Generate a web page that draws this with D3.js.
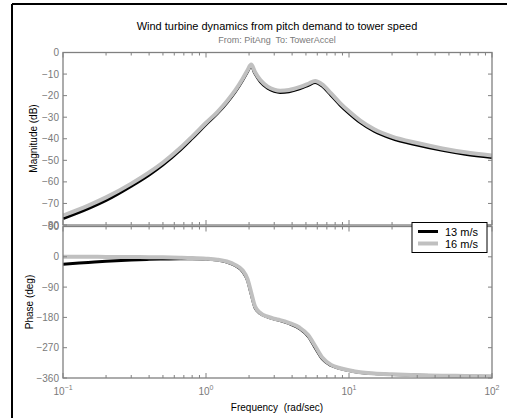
<!DOCTYPE html>
<html><head><meta charset="utf-8">
<script src="https://cdn.jsdelivr.net/npm/d3@7"></script>
<style>body{margin:0;background:#fff}svg{display:block;font-family:Arial,"Liberation Sans",sans-serif}</style>
</head><body><svg id="c" width="507" height="418"></svg>
<script>
const freq = [0.1,0.15,0.2,0.3,0.4,0.5,0.66,0.8,1.0,1.2,1.4,1.6,1.8,1.95,2.07,2.2,2.4,2.7,3.0,3.3,3.8,4.5,5.2,5.8,6.5,7.5,8.7,10,12,15,20,30,45,65,100];
const mag16 = [-75.6,-71,-67.2,-60.8,-55.6,-51,-44.3,-39,-32.6,-27.6,-22.6,-17.6,-12.3,-8.2,-5.6,-9,-12.8,-15.8,-17.2,-17.7,-17.4,-16.1,-14.5,-13.2,-14.8,-19,-23.6,-27.3,-31.6,-35.6,-39,-42,-44.5,-46.3,-47.8];
const mag13 = [-77,-72.4,-68.6,-62,-56.8,-52.1,-45.3,-39.9,-33.4,-28.3,-23.3,-18.3,-13,-8.9,-6.3,-9.8,-13.6,-16.6,-18,-18.5,-18.2,-16.9,-15.2,-13.9,-15.6,-19.9,-24.5,-28.2,-32.5,-36.5,-39.9,-42.9,-45.4,-47.2,-48.7];
const phase16 = [0,0,-0.3,-0.6,-1,-1.5,-2.5,-3.5,-5.5,-8.5,-14,-24,-40,-66,-106,-147,-167,-178,-184,-188,-196,-210,-233,-265,-299,-321,-331,-337,-343,-346.5,-349,-351.5,-353,-354,-355];
const phase13 = [-22,-17,-13.5,-9.5,-7.5,-6.3,-5.5,-5.5,-6.5,-9.5,-15.5,-26,-43,-70,-111,-151,-169,-179,-185,-189.5,-198,-213,-237,-270,-303,-323,-332,-338,-344,-347,-349.5,-352,-353.5,-354.5,-355.5];
const seriesNames = ["13 m/s","16 m/s"];
const magTicks = [0,-10,-20,-30,-40,-50,-60,-70,-80];
const phaseTicks = [90,0,-90,-180,-270,-360];
const decades = [-1,0,1,2];

const svg = d3.select("#c");
const axisCol = "#808080", textCol = "#7a7a7a";
const L = 63, R = 492;
const x = d3.scaleLog().domain([0.1,100]).range([L,R]);
const yM = d3.scaleLinear().domain([-80,0]).range([225,52.5]);
const yP = d3.scaleLinear().domain([-360,90]).range([378,226.5]);

svg.append("line").attr("x1",12).attr("x2",12).attr("y1",4).attr("y2",418).attr("stroke","#000").attr("stroke-width",2);
svg.append("line").attr("x1",12).attr("x2",507).attr("y1",4).attr("y2",4).attr("stroke","#000").attr("stroke-width",2);

svg.append("text").attr("x",277).attr("y",30).attr("text-anchor","middle").attr("font-size",11).attr("fill","#000").text("Wind turbine dynamics from pitch demand to tower speed");
svg.append("text").attr("x",277).attr("y",43).attr("text-anchor","middle").attr("font-size",9).attr("fill",textCol).style("white-space","pre").text("From: PitAng  To: TowerAccel");

function panel(y, ticks, top, bottom, vals, showX){
  const g = svg.append("g");
  const clipId = "clip"+Math.round(top);
  svg.append("clipPath").attr("id",clipId).append("rect").attr("x",L).attr("y",top).attr("width",R-L).attr("height",bottom-top);
  const line = d3.line().x((d,i)=>x(freq[i])).y(d=>y(d)).curve(d3.curveMonotoneX);
  const cg = g.append("g").attr("clip-path",`url(#${clipId})`);
  cg.append("path").attr("d",line(vals[0])).attr("fill","none").attr("stroke","#000").attr("stroke-width",3);
  cg.append("path").attr("d",line(vals[1])).attr("fill","none").attr("stroke","#c0c0c0").attr("stroke-width",4);
  g.append("rect").attr("x",L).attr("y",top).attr("width",R-L).attr("height",bottom-top).attr("fill","none").attr("stroke",axisCol).attr("stroke-width",1.3);
  ticks.forEach(t=>{
    const yy = y(t);
    g.append("line").attr("x1",L).attr("x2",L+4).attr("y1",yy).attr("y2",yy).attr("stroke",axisCol);
    g.append("line").attr("x1",R-4).attr("x2",R).attr("y1",yy).attr("y2",yy).attr("stroke",axisCol);
    g.append("text").attr("x",L-4).attr("y",yy+3.5).attr("text-anchor","end").attr("font-size",10).attr("fill",textCol).text(String(t).replace("-","\u2212"));
  });
  decades.forEach(dc=>{
    for(let k=1;k<=9;k++){
      const v = k*Math.pow(10,dc);
      if(v<0.1-1e-9||v>100+1e-9) continue;
      const xx = x(v), len = k===1?5:3;
      g.append("line").attr("x1",xx).attr("x2",xx).attr("y1",bottom).attr("y2",bottom-len).attr("stroke",axisCol);
      g.append("line").attr("x1",xx).attr("x2",xx).attr("y1",top).attr("y2",top+len).attr("stroke",axisCol);
    }
    if(showX){
      const t = g.append("text").attr("x",x(Math.pow(10,dc))).attr("y",bottom+17).attr("text-anchor","middle").attr("font-size",10).attr("fill",textCol);
      t.append("tspan").text("10");
      t.append("tspan").attr("dy",-5).attr("font-size",7).text(String(dc).replace("-","\u2212"));
    }
  });
  return g;
}
panel(yM, magTicks, 52.5, 225, [mag13, mag16], false);
panel(yP, phaseTicks, 226.5, 378, [phase13, phase16], true);

svg.append("text").attr("transform","translate(37,138.5) rotate(-90)").attr("text-anchor","middle").attr("font-size",10).attr("fill","#000").text("Magnitude (dB)");
svg.append("text").attr("transform","translate(33,302) rotate(-90)").attr("text-anchor","middle").attr("font-size",10).attr("fill","#000").text("Phase (deg)");
svg.append("text").attr("x",277).attr("y",411).attr("text-anchor","middle").attr("font-size",10).attr("fill","#000").style("white-space","pre").text("Frequency  (rad/sec)");

const lg = svg.append("g");
lg.append("rect").attr("x",412).attr("y",222.5).attr("width",75).attr("height",30).attr("fill","#fff").attr("stroke","#000").attr("stroke-width",1);
const legCols = ["#000","#c0c0c0"];
seriesNames.forEach((n,i)=>{
  const yy = 231.5 + i*12;
  lg.append("line").attr("x1",418).attr("x2",438).attr("y1",yy).attr("y2",yy).attr("stroke",legCols[i]).attr("stroke-width",i?4:3);
  lg.append("text").attr("x",445).attr("y",yy+4).attr("font-size",11).attr("fill","#000").text(n);
});
</script></body></html>
